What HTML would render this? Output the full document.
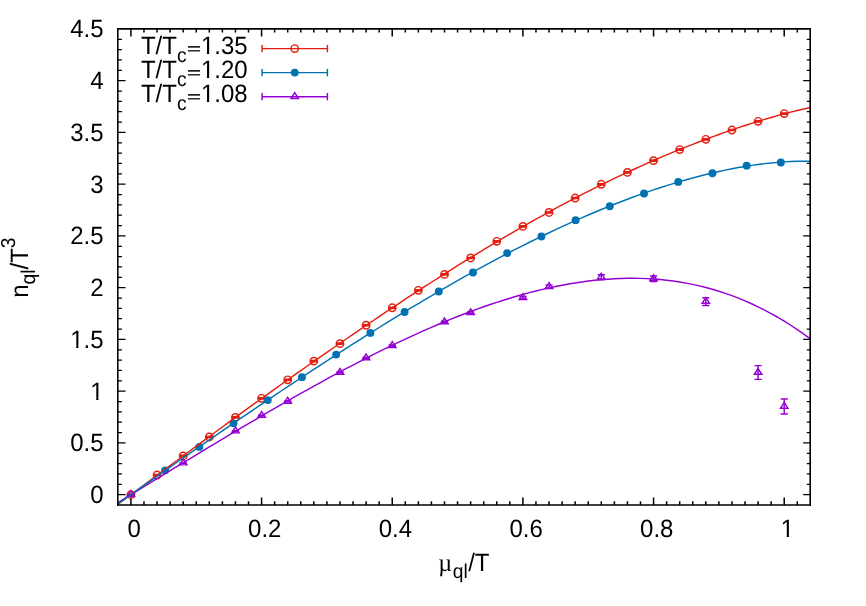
<!DOCTYPE html>
<html><head><meta charset="utf-8"><title>plot</title>
<style>html,body{margin:0;padding:0;background:#fff;}svg{display:block;will-change:transform;}text{font-family:"Liberation Sans",sans-serif;fill:#000;text-rendering:geometricPrecision;}.sym{font-family:"Liberation Serif",serif;}</style></head><body>
<svg width="866" height="606" viewBox="0 0 866 606">
<rect x="0" y="0" width="866" height="606" fill="#ffffff"/>
<defs><clipPath id="one" clipPathUnits="userSpaceOnUse"><path d="M-1,-22H14V-2.05H8.22V1H5.98V-2.05H-1Z"/></clipPath></defs>
<path d="M117.85,494.65h7.7M810.10,494.65h-6.9M117.85,484.30h4.1M810.10,484.30h-3.3M117.85,473.95h4.1M810.10,473.95h-3.3M117.85,463.60h4.1M810.10,463.60h-3.3M117.85,453.25h4.1M810.10,453.25h-3.3M117.85,442.90h7.7M810.10,442.90h-6.9M117.85,432.55h4.1M810.10,432.55h-3.3M117.85,422.20h4.1M810.10,422.20h-3.3M117.85,411.85h4.1M810.10,411.85h-3.3M117.85,401.50h4.1M810.10,401.50h-3.3M117.85,391.15h7.7M810.10,391.15h-6.9M117.85,380.80h4.1M810.10,380.80h-3.3M117.85,370.45h4.1M810.10,370.45h-3.3M117.85,360.10h4.1M810.10,360.10h-3.3M117.85,349.75h4.1M810.10,349.75h-3.3M117.85,339.40h7.7M810.10,339.40h-6.9M117.85,329.05h4.1M810.10,329.05h-3.3M117.85,318.70h4.1M810.10,318.70h-3.3M117.85,308.35h4.1M810.10,308.35h-3.3M117.85,298.00h4.1M810.10,298.00h-3.3M117.85,287.65h7.7M810.10,287.65h-6.9M117.85,277.30h4.1M810.10,277.30h-3.3M117.85,266.95h4.1M810.10,266.95h-3.3M117.85,256.60h4.1M810.10,256.60h-3.3M117.85,246.25h4.1M810.10,246.25h-3.3M117.85,235.90h7.7M810.10,235.90h-6.9M117.85,225.55h4.1M810.10,225.55h-3.3M117.85,215.20h4.1M810.10,215.20h-3.3M117.85,204.85h4.1M810.10,204.85h-3.3M117.85,194.50h4.1M810.10,194.50h-3.3M117.85,184.15h7.7M810.10,184.15h-6.9M117.85,173.80h4.1M810.10,173.80h-3.3M117.85,163.45h4.1M810.10,163.45h-3.3M117.85,153.10h4.1M810.10,153.10h-3.3M117.85,142.75h4.1M810.10,142.75h-3.3M117.85,132.40h7.7M810.10,132.40h-6.9M117.85,122.05h4.1M810.10,122.05h-3.3M117.85,111.70h4.1M810.10,111.70h-3.3M117.85,101.35h4.1M810.10,101.35h-3.3M117.85,91.00h4.1M810.10,91.00h-3.3M117.85,80.65h7.7M810.10,80.65h-6.9M117.85,70.30h4.1M810.10,70.30h-3.3M117.85,59.95h4.1M810.10,59.95h-3.3M117.85,49.60h4.1M810.10,49.60h-3.3M117.85,39.25h4.1M810.10,39.25h-3.3" stroke="#000" stroke-width="1.25" fill="none"/>
<path d="M130.92,505.00v-7.5M130.92,28.90v7.5M143.98,505.00v-3.7M143.98,28.90v3.7M157.05,505.00v-3.7M157.05,28.90v3.7M170.11,505.00v-3.7M170.11,28.90v3.7M183.18,505.00v-3.7M183.18,28.90v3.7M196.25,505.00v-3.7M196.25,28.90v3.7M209.31,505.00v-3.7M209.31,28.90v3.7M222.38,505.00v-3.7M222.38,28.90v3.7M235.44,505.00v-3.7M235.44,28.90v3.7M248.51,505.00v-3.7M248.51,28.90v3.7M261.58,505.00v-7.5M261.58,28.90v7.5M274.64,505.00v-3.7M274.64,28.90v3.7M287.71,505.00v-3.7M287.71,28.90v3.7M300.77,505.00v-3.7M300.77,28.90v3.7M313.84,505.00v-3.7M313.84,28.90v3.7M326.91,505.00v-3.7M326.91,28.90v3.7M339.97,505.00v-3.7M339.97,28.90v3.7M353.04,505.00v-3.7M353.04,28.90v3.7M366.10,505.00v-3.7M366.10,28.90v3.7M379.17,505.00v-3.7M379.17,28.90v3.7M392.24,505.00v-7.5M392.24,28.90v7.5M405.30,505.00v-3.7M405.30,28.90v3.7M418.37,505.00v-3.7M418.37,28.90v3.7M431.43,505.00v-3.7M431.43,28.90v3.7M444.50,505.00v-3.7M444.50,28.90v3.7M457.57,505.00v-3.7M457.57,28.90v3.7M470.63,505.00v-3.7M470.63,28.90v3.7M483.70,505.00v-3.7M483.70,28.90v3.7M496.76,505.00v-3.7M496.76,28.90v3.7M509.83,505.00v-3.7M509.83,28.90v3.7M522.90,505.00v-7.5M522.90,28.90v7.5M535.96,505.00v-3.7M535.96,28.90v3.7M549.03,505.00v-3.7M549.03,28.90v3.7M562.09,505.00v-3.7M562.09,28.90v3.7M575.16,505.00v-3.7M575.16,28.90v3.7M588.23,505.00v-3.7M588.23,28.90v3.7M601.29,505.00v-3.7M601.29,28.90v3.7M614.36,505.00v-3.7M614.36,28.90v3.7M627.42,505.00v-3.7M627.42,28.90v3.7M640.49,505.00v-3.7M640.49,28.90v3.7M653.56,505.00v-7.5M653.56,28.90v7.5M666.62,505.00v-3.7M666.62,28.90v3.7M679.69,505.00v-3.7M679.69,28.90v3.7M692.75,505.00v-3.7M692.75,28.90v3.7M705.82,505.00v-3.7M705.82,28.90v3.7M718.89,505.00v-3.7M718.89,28.90v3.7M731.95,505.00v-3.7M731.95,28.90v3.7M745.02,505.00v-3.7M745.02,28.90v3.7M758.08,505.00v-3.7M758.08,28.90v3.7M771.15,505.00v-3.7M771.15,28.90v3.7M784.22,505.00v-7.5M784.22,28.90v7.5M797.28,505.00v-3.7M797.28,28.90v3.7" stroke="#000" stroke-width="1.5" fill="none"/>
<text transform="translate(90.24,503.00) scale(1,1.045)" font-size="24.0" text-anchor="start">0</text>
<text transform="translate(70.23,451.25) scale(1,1.045)" font-size="24.0" text-anchor="start">0.5</text>
<text transform="translate(90.24,399.50) scale(1,1.045)" font-size="24.0" text-anchor="start" clip-path="url(#one)">1</text>
<text transform="translate(70.23,347.75) scale(1,1.045)" font-size="24.0" text-anchor="start" clip-path="url(#one)">1</text><text transform="translate(83.58,347.75) scale(1,1.045)" font-size="24.0" text-anchor="start">.5</text>
<text transform="translate(90.24,296.00) scale(1,1.045)" font-size="24.0" text-anchor="start">2</text>
<text transform="translate(70.23,244.25) scale(1,1.045)" font-size="24.0" text-anchor="start">2.5</text>
<text transform="translate(90.24,192.50) scale(1,1.045)" font-size="24.0" text-anchor="start">3</text>
<text transform="translate(70.23,140.75) scale(1,1.045)" font-size="24.0" text-anchor="start">3.5</text>
<text transform="translate(90.24,89.00) scale(1,1.045)" font-size="24.0" text-anchor="start">4</text>
<text transform="translate(70.23,37.25) scale(1,1.045)" font-size="24.0" text-anchor="start">4.5</text>
<text transform="translate(127.44,536.60) scale(1,1.045)" font-size="24.0" text-anchor="start">0</text>
<text transform="translate(248.09,536.60) scale(1,1.045)" font-size="24.0" text-anchor="start">0.2</text>
<text transform="translate(378.75,536.60) scale(1,1.045)" font-size="24.0" text-anchor="start">0.4</text>
<text transform="translate(509.41,536.60) scale(1,1.045)" font-size="24.0" text-anchor="start">0.6</text>
<text transform="translate(640.07,536.60) scale(1,1.045)" font-size="24.0" text-anchor="start">0.8</text>
<text transform="translate(780.74,536.60) scale(1,1.045)" font-size="24.0" text-anchor="start" clip-path="url(#one)">1</text>
<text transform="translate(438.30,571.20) scale(1,1.045)" font-size="24.0" text-anchor="start"><tspan class="sym">µ</tspan><tspan font-size="19.2" dx="0.6" dy="6.4">ql</tspan><tspan dx="0.5" dy="-6.4">/T</tspan></text>
<text transform="translate(27.50,297.80) rotate(-90) scale(1,1.045)" font-size="24.0" text-anchor="start">n<tspan font-size="19.2" dy="7.4">ql</tspan><tspan dy="-7.4">/T</tspan><tspan font-size="19.2" dy="-12.1">3</tspan></text>
<defs><clipPath id="cp"><rect x="117.85" y="28.9" width="692.25" height="476.1"/></clipPath></defs>
<path d="M130.92,494.03V495.27M127.32,494.03h7.2M127.32,495.27h7.2M157.05,474.39V475.63M153.45,474.39h7.2M153.45,475.63h7.2M183.18,455.27V456.51M179.58,455.27h7.2M179.58,456.51h7.2M209.31,436.36V437.60M205.71,436.36h7.2M205.71,437.60h7.2M235.44,416.82V418.06M231.84,416.82h7.2M231.84,418.06h7.2M261.58,397.70V398.94M257.98,397.70h7.2M257.98,398.94h7.2M287.71,379.20V380.44M284.11,379.20h7.2M284.11,380.44h7.2M313.84,360.49V361.74M310.24,360.49h7.2M310.24,361.74h7.2M339.97,343.03V344.27M336.37,343.03h7.2M336.37,344.27h7.2M366.10,324.63V325.87M362.50,324.63h7.2M362.50,325.87h7.2M392.24,307.16V308.40M388.64,307.16h7.2M388.64,308.40h7.2M418.37,289.70V290.94M414.77,289.70h7.2M414.77,290.94h7.2M444.50,273.78V275.02M440.90,273.78h7.2M440.90,275.02h7.2M470.63,257.35V258.59M467.03,257.35h7.2M467.03,258.59h7.2M496.76,240.71V241.95M493.16,240.71h7.2M493.16,241.95h7.2M522.90,225.82V227.06M519.30,225.82h7.2M519.30,227.06h7.2M549.03,211.87V213.11M545.43,211.87h7.2M545.43,213.11h7.2M575.16,197.40V198.64M571.56,197.40h7.2M571.56,198.64h7.2M601.29,183.65V184.90M597.69,183.65h7.2M597.69,184.90h7.2M627.42,171.77V173.01M623.82,171.77h7.2M623.82,173.01h7.2M653.56,159.99V161.23M649.96,159.99h7.2M649.96,161.23h7.2M679.69,148.93V150.17M676.09,148.93h7.2M676.09,150.17h7.2M705.82,138.69V139.94M702.22,138.69h7.2M702.22,139.94h7.2M731.95,129.39V130.63M728.35,129.39h7.2M728.35,130.63h7.2M758.08,120.71V121.95M754.48,120.71h7.2M754.48,121.95h7.2M784.22,112.96V114.20M780.62,112.96h7.2M780.62,114.20h7.2" stroke="#e51e10" stroke-width="1.45" fill="none"/><circle cx="130.92" cy="494.65" r="3.7" stroke="#e51e10" stroke-width="1.45" fill="none"/><circle cx="157.05" cy="475.01" r="3.7" stroke="#e51e10" stroke-width="1.45" fill="none"/><circle cx="183.18" cy="455.89" r="3.7" stroke="#e51e10" stroke-width="1.45" fill="none"/><circle cx="209.31" cy="436.98" r="3.7" stroke="#e51e10" stroke-width="1.45" fill="none"/><circle cx="235.44" cy="417.44" r="3.7" stroke="#e51e10" stroke-width="1.45" fill="none"/><circle cx="261.58" cy="398.32" r="3.7" stroke="#e51e10" stroke-width="1.45" fill="none"/><circle cx="287.71" cy="379.82" r="3.7" stroke="#e51e10" stroke-width="1.45" fill="none"/><circle cx="313.84" cy="361.12" r="3.7" stroke="#e51e10" stroke-width="1.45" fill="none"/><circle cx="339.97" cy="343.65" r="3.7" stroke="#e51e10" stroke-width="1.45" fill="none"/><circle cx="366.10" cy="325.25" r="3.7" stroke="#e51e10" stroke-width="1.45" fill="none"/><circle cx="392.24" cy="307.78" r="3.7" stroke="#e51e10" stroke-width="1.45" fill="none"/><circle cx="418.37" cy="290.32" r="3.7" stroke="#e51e10" stroke-width="1.45" fill="none"/><circle cx="444.50" cy="274.40" r="3.7" stroke="#e51e10" stroke-width="1.45" fill="none"/><circle cx="470.63" cy="257.97" r="3.7" stroke="#e51e10" stroke-width="1.45" fill="none"/><circle cx="496.76" cy="241.33" r="3.7" stroke="#e51e10" stroke-width="1.45" fill="none"/><circle cx="522.90" cy="226.44" r="3.7" stroke="#e51e10" stroke-width="1.45" fill="none"/><circle cx="549.03" cy="212.49" r="3.7" stroke="#e51e10" stroke-width="1.45" fill="none"/><circle cx="575.16" cy="198.02" r="3.7" stroke="#e51e10" stroke-width="1.45" fill="none"/><circle cx="601.29" cy="184.27" r="3.7" stroke="#e51e10" stroke-width="1.45" fill="none"/><circle cx="627.42" cy="172.39" r="3.7" stroke="#e51e10" stroke-width="1.45" fill="none"/><circle cx="653.56" cy="160.61" r="3.7" stroke="#e51e10" stroke-width="1.45" fill="none"/><circle cx="679.69" cy="149.55" r="3.7" stroke="#e51e10" stroke-width="1.45" fill="none"/><circle cx="705.82" cy="139.32" r="3.7" stroke="#e51e10" stroke-width="1.45" fill="none"/><circle cx="731.95" cy="130.01" r="3.7" stroke="#e51e10" stroke-width="1.45" fill="none"/><circle cx="758.08" cy="121.33" r="3.7" stroke="#e51e10" stroke-width="1.45" fill="none"/><circle cx="784.22" cy="113.58" r="3.7" stroke="#e51e10" stroke-width="1.45" fill="none"/>
<circle cx="165.12" cy="470.36" r="3.95" fill="#0072b2"/><circle cx="199.33" cy="446.90" r="3.95" fill="#0072b2"/><circle cx="233.54" cy="423.33" r="3.95" fill="#0072b2"/><circle cx="267.74" cy="400.08" r="3.95" fill="#0072b2"/><circle cx="301.95" cy="377.14" r="3.95" fill="#0072b2"/><circle cx="336.16" cy="354.60" r="3.95" fill="#0072b2"/><circle cx="370.36" cy="332.90" r="3.95" fill="#0072b2"/><circle cx="404.57" cy="312.02" r="3.95" fill="#0072b2"/><circle cx="438.78" cy="291.56" r="3.95" fill="#0072b2"/><circle cx="472.98" cy="272.44" r="3.95" fill="#0072b2"/><circle cx="507.19" cy="253.11" r="3.95" fill="#0072b2"/><circle cx="541.40" cy="236.47" r="3.95" fill="#0072b2"/><circle cx="575.60" cy="220.14" r="3.95" fill="#0072b2"/><circle cx="609.81" cy="206.29" r="3.95" fill="#0072b2"/><circle cx="644.02" cy="193.47" r="3.95" fill="#0072b2"/><circle cx="678.22" cy="181.90" r="3.95" fill="#0072b2"/><circle cx="712.43" cy="173.22" r="3.95" fill="#0072b2"/><circle cx="746.64" cy="165.67" r="3.95" fill="#0072b2"/><circle cx="780.84" cy="162.47" r="3.95" fill="#0072b2"/>
<path d="M130.92,494.65V494.65M127.32,494.65h7.2M127.32,494.65h7.2M183.18,462.89V463.31M179.58,462.89h7.2M179.58,463.31h7.2M235.44,430.83V431.45M231.84,430.83h7.2M231.84,431.45h7.2M261.58,415.21V416.04M257.98,415.21h7.2M257.98,416.04h7.2M287.71,401.04V401.87M284.11,401.04h7.2M284.11,401.87h7.2M339.97,371.97V373.01M336.37,371.97h7.2M336.37,373.01h7.2M366.10,357.39V358.63M362.50,357.39h7.2M362.50,358.63h7.2M392.24,345.03V346.27M388.64,345.03h7.2M388.64,346.27h7.2M444.50,321.18V322.84M440.90,321.18h7.2M440.90,322.84h7.2M470.63,311.87V313.74M467.03,311.87h7.2M467.03,313.74h7.2M522.90,296.46V298.95M519.30,296.46h7.2M519.30,298.95h7.2M549.03,285.14V288.24M545.43,285.14h7.2M545.43,288.24h7.2M601.29,274.84V279.60M597.69,274.84h7.2M597.69,279.60h7.2M653.56,276.02V281.53M649.96,276.02h7.2M649.96,281.53h7.2M705.82,297.75V305.41M702.22,297.75h7.2M702.22,305.41h7.2M758.08,365.61V379.37M754.48,365.61h7.2M754.48,379.37h7.2M784.22,398.91V413.92M780.62,398.91h7.2M780.62,413.92h7.2" stroke="#9400d3" stroke-width="1.45" fill="none"/><path d="M130.92,490.65L127.22,496.40L134.62,496.40ZM183.18,459.10L179.48,464.85L186.88,464.85ZM235.44,427.14L231.74,432.89L239.14,432.89ZM261.58,411.62L257.88,417.37L265.28,417.37ZM287.71,397.45L284.01,403.20L291.41,403.20ZM339.97,368.49L336.27,374.24L343.67,374.24ZM366.10,354.01L362.40,359.76L369.80,359.76ZM392.24,341.65L388.54,347.40L395.94,347.40ZM444.50,318.01L440.80,323.76L448.20,323.76ZM470.63,308.81L466.93,314.56L474.33,314.56ZM522.90,293.70L519.20,299.45L526.60,299.45ZM549.03,282.69L545.33,288.44L552.73,288.44ZM601.29,273.22L597.59,278.97L604.99,278.97ZM653.56,274.78L649.86,280.53L657.26,280.53ZM705.82,297.58L702.12,303.33L709.52,303.33ZM758.08,368.49L754.38,374.24L761.78,374.24ZM784.22,402.42L780.52,408.17L787.92,408.17Z" stroke="#9400d3" stroke-width="1.45" fill="none" stroke-linejoin="miter"/>
<g clip-path="url(#cp)" fill="none" stroke-width="1.45" stroke-linejoin="round">
<path d="M117.85,504.35 L124.38,499.54 L130.92,494.71 L137.45,489.87 L143.98,485.02 L150.51,480.17 L157.05,475.31 L163.58,470.44 L170.11,465.58 L176.65,460.73 L183.18,455.88 L189.71,451.03 L196.25,446.20 L202.78,441.37 L209.31,436.56 L215.84,431.76 L222.38,426.96 L228.91,422.19 L235.44,417.42 L241.98,412.67 L248.51,407.93 L255.04,403.21 L261.58,398.50 L268.11,393.81 L274.64,389.13 L281.17,384.47 L287.71,379.83 L294.24,375.20 L300.77,370.58 L307.31,365.99 L313.84,361.41 L320.37,356.84 L326.91,352.30 L333.44,347.77 L339.97,343.25 L346.50,338.76 L353.04,334.29 L359.57,329.83 L366.10,325.39 L372.64,320.98 L379.17,316.58 L385.70,312.21 L392.24,307.86 L398.77,303.53 L405.30,299.22 L411.84,294.94 L418.37,290.68 L424.90,286.45 L431.43,282.24 L437.97,278.06 L444.50,273.91 L451.03,269.79 L457.57,265.70 L464.10,261.63 L470.63,257.60 L477.16,253.60 L483.70,249.64 L490.23,245.71 L496.76,241.81 L503.30,237.95 L509.83,234.12 L516.36,230.34 L522.90,226.59 L529.43,222.88 L535.96,219.21 L542.50,215.58 L549.03,211.99 L555.56,208.44 L562.09,204.93 L568.63,201.47 L575.16,198.05 L581.69,194.67 L588.23,191.34 L594.76,188.05 L601.29,184.81 L607.82,181.61 L614.36,178.46 L620.89,175.35 L627.42,172.29 L633.96,169.28 L640.49,166.31 L647.02,163.39 L653.56,160.52 L660.09,157.70 L666.62,154.92 L673.15,152.19 L679.69,149.51 L686.22,146.88 L692.75,144.30 L699.29,141.76 L705.82,139.28 L712.35,136.85 L718.89,134.47 L725.42,132.14 L731.95,129.87 L738.49,127.65 L745.02,125.49 L751.55,123.39 L758.08,121.35 L764.62,119.36 L771.15,117.45 L777.68,115.60 L784.22,113.82 L790.75,112.11 L797.28,110.48 L803.82,108.93 L810.35,107.47" stroke="#e51e10"/>
<path d="M117.85,502.78 L124.38,498.73 L130.92,494.69 L137.45,490.66 L143.98,486.64 L150.51,482.63 L157.05,478.63 L163.58,474.64 L170.11,470.66 L176.65,466.68 L183.18,462.72 L189.71,458.76 L196.25,454.81 L202.78,450.87 L209.31,446.95 L215.84,443.03 L222.38,439.12 L228.91,435.22 L235.44,431.34 L241.98,427.47 L248.51,423.62 L255.04,419.78 L261.58,415.96 L268.11,412.16 L274.64,408.37 L281.17,404.61 L287.71,400.87 L294.24,397.16 L300.77,393.47 L307.31,389.80 L313.84,386.17 L320.37,382.56 L326.91,378.98 L333.44,375.44 L339.97,371.93 L346.50,368.46 L353.04,365.03 L359.57,361.63 L366.10,358.27 L372.64,354.96 L379.17,351.69 L385.70,348.47 L392.24,345.29 L398.77,342.17 L405.30,339.09 L411.84,336.07 L418.37,333.10 L424.90,330.18 L431.43,327.32 L437.97,324.53 L444.50,321.79 L451.03,319.12 L457.57,316.51 L464.10,313.97 L470.63,311.50 L477.16,309.09 L483.70,306.76 L490.23,304.51 L496.76,302.33 L503.30,300.23 L509.83,298.21 L516.36,296.27 L522.90,294.42 L529.43,292.66 L535.96,290.98 L542.50,289.40 L549.03,287.91 L555.56,286.52 L562.09,285.23 L568.63,284.03 L575.16,282.94 L581.69,281.96 L588.23,281.09 L594.76,280.33 L601.29,279.69 L607.82,279.16 L614.36,278.75 L620.89,278.47 L627.42,278.31 L633.96,278.28 L640.49,278.39 L647.02,278.63 L653.56,279.01 L660.09,279.53 L666.62,280.19 L673.15,281.01 L679.69,281.98 L686.22,283.10 L692.75,284.39 L699.29,285.84 L705.82,287.45 L712.35,289.23 L718.89,291.19 L725.42,293.33 L731.95,295.64 L738.49,298.15 L745.02,300.84 L751.55,303.72 L758.08,306.80 L764.62,310.07 L771.15,313.56 L777.68,317.25 L784.22,321.14 L790.75,325.26 L797.28,329.59 L803.82,334.14 L810.35,338.92" stroke="#9400d3"/>
<path d="M117.85,503.92 L124.38,499.28 L130.92,494.65 L137.45,490.03 L143.98,485.42 L150.51,480.82 L157.05,476.23 L163.58,471.64 L170.11,467.07 L176.65,462.51 L183.18,457.96 L189.71,453.42 L196.25,448.88 L202.78,444.36 L209.31,439.85 L215.84,435.35 L222.38,430.87 L228.91,426.39 L235.44,421.92 L241.98,417.47 L248.51,413.03 L255.04,408.60 L261.58,404.19 L268.11,399.78 L274.64,395.39 L281.17,391.02 L287.71,386.66 L294.24,382.31 L300.77,377.98 L307.31,373.67 L313.84,369.37 L320.37,365.09 L326.91,360.83 L333.44,356.59 L339.97,352.37 L346.50,348.17 L353.04,343.98 L359.57,339.82 L366.10,335.69 L372.64,331.58 L379.17,327.49 L385.70,323.42 L392.24,319.39 L398.77,315.38 L405.30,311.39 L411.84,307.44 L418.37,303.52 L424.90,299.62 L431.43,295.76 L437.97,291.93 L444.50,288.14 L451.03,284.38 L457.57,280.65 L464.10,276.96 L470.63,273.31 L477.16,269.70 L483.70,266.12 L490.23,262.59 L496.76,259.09 L503.30,255.64 L509.83,252.23 L516.36,248.87 L522.90,245.55 L529.43,242.27 L535.96,239.05 L542.50,235.87 L549.03,232.73 L555.56,229.65 L562.09,226.61 L568.63,223.63 L575.16,220.70 L581.69,217.82 L588.23,215.00 L594.76,212.23 L601.29,209.51 L607.82,206.85 L614.36,204.25 L620.89,201.71 L627.42,199.22 L633.96,196.80 L640.49,194.44 L647.02,192.15 L653.56,189.91 L660.09,187.75 L666.62,185.65 L673.15,183.62 L679.69,181.66 L686.22,179.77 L692.75,177.96 L699.29,176.23 L705.82,174.57 L712.35,172.99 L718.89,171.50 L725.42,170.10 L731.95,168.78 L738.49,167.56 L745.02,166.43 L751.55,165.40 L758.08,164.47 L764.62,163.65 L771.15,162.94 L777.68,162.35 L784.22,161.88 L790.75,161.53 L797.28,161.32 L803.82,161.25 L810.35,161.32" stroke="#0072b2"/>
</g>
<text transform="translate(140.90,53.75) scale(1,1.045)" font-size="24.0" text-anchor="start">T/T<tspan font-size="19.2" dy="8.1">c</tspan></text>
<text transform="translate(186.95,53.65) scale(1,0.66)" font-size="24.0" stroke="#000" stroke-width="0.45">=</text>
<text transform="translate(200.95,53.75) scale(1,1.045)" font-size="24.0" text-anchor="start" clip-path="url(#one)">1</text><text transform="translate(214.30,53.75) scale(1,1.045)" font-size="24.0" text-anchor="start">.35</text>
<path d="M262.1,48.6H327.4M262.1,45.0v7.2M327.4,45.0v7.2" stroke="#e51e10" stroke-width="1.45" fill="none"/>
<circle cx="294.75" cy="48.6" r="3.7" stroke="#e51e10" stroke-width="1.45" fill="none"/>
<text transform="translate(140.90,77.75) scale(1,1.045)" font-size="24.0" text-anchor="start">T/T<tspan font-size="19.2" dy="8.1">c</tspan></text>
<text transform="translate(186.95,77.65) scale(1,0.66)" font-size="24.0" stroke="#000" stroke-width="0.45">=</text>
<text transform="translate(200.95,77.75) scale(1,1.045)" font-size="24.0" text-anchor="start" clip-path="url(#one)">1</text><text transform="translate(214.30,77.75) scale(1,1.045)" font-size="24.0" text-anchor="start">.20</text>
<path d="M262.1,72.6H327.4M262.1,69.0v7.2M327.4,69.0v7.2" stroke="#0072b2" stroke-width="1.45" fill="none"/>
<circle cx="294.75" cy="72.6" r="3.95" fill="#0072b2"/>
<text transform="translate(140.90,101.80) scale(1,1.045)" font-size="24.0" text-anchor="start">T/T<tspan font-size="19.2" dy="8.1">c</tspan></text>
<text transform="translate(186.95,101.70) scale(1,0.66)" font-size="24.0" stroke="#000" stroke-width="0.45">=</text>
<text transform="translate(200.95,101.80) scale(1,1.045)" font-size="24.0" text-anchor="start" clip-path="url(#one)">1</text><text transform="translate(214.30,101.80) scale(1,1.045)" font-size="24.0" text-anchor="start">.08</text>
<path d="M262.1,96.65H327.4M262.1,93.05000000000001v7.2M327.4,93.05000000000001v7.2" stroke="#9400d3" stroke-width="1.45" fill="none"/>
<path d="M294.75,92.65L291.05,98.40L298.45,98.40Z" stroke="#9400d3" stroke-width="1.45" fill="none"/>
<path d="M117.8,28.05V505.8" stroke="#000" stroke-width="1.55" fill="none"/>
<path d="M810.2,28.05V505.8" stroke="#000" stroke-width="1.6" fill="none"/>
<path d="M117.03,28.85H811.0" stroke="#000" stroke-width="1.65" fill="none"/>
<path d="M117.03,505.0H811.0" stroke="#000" stroke-width="1.6" fill="none"/>
</svg></body></html>
